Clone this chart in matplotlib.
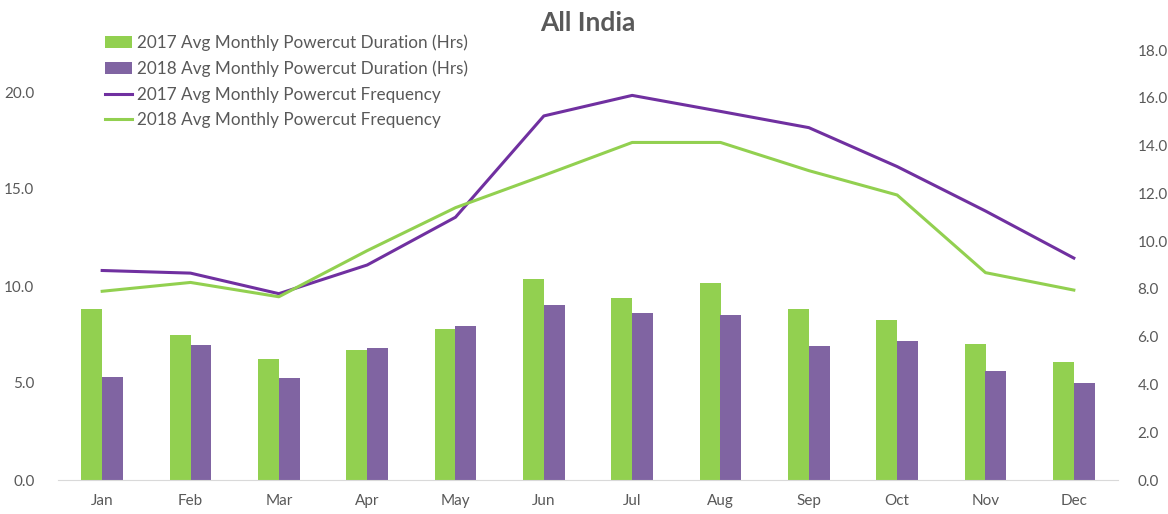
import numpy as np
import matplotlib.pyplot as plt
from matplotlib.patches import Patch
from matplotlib.lines import Line2D

plt.rcParams['font.family'] = ['Lato', 'DejaVu Sans']

months = ["Jan", "Feb", "Mar", "Apr", "May", "Jun",
          "Jul", "Aug", "Sep", "Oct", "Nov", "Dec"]

duration_2017 = [8.80, 7.47, 6.25, 6.68, 7.77, 10.36, 9.36, 10.14, 8.80, 8.25, 6.99, 6.10]
duration_2018 = [5.31, 6.97, 5.27, 6.79, 7.92, 9.00, 8.59, 8.52, 6.91, 7.16, 5.64, 5.02]
frequency_2017 = [8.77, 8.66, 7.80, 9.00, 11.00, 15.24, 16.10, 15.43, 14.75, 13.12, 11.26, 9.29]
frequency_2018 = [7.90, 8.27, 7.67, 9.60, 11.40, 12.75, 14.13, 14.13, 12.95, 11.93, 8.68, 7.95]

green = "#92D050"
purple_bar = "#8064A2"
purple_line = "#7030A0"
text_grey = "#595959"

fig = plt.figure(figsize=(11.68, 5.14), dpi=100)
ax = fig.add_axes([58 / 1168, 1 - 480 / 514, 1060 / 1168, 430 / 514])
ax2 = ax.twinx()

x = np.arange(len(months))
w = 0.235
ax.bar(x - w / 2, duration_2017, w, color=green, zorder=2)
ax.bar(x + w / 2, duration_2018, w, color=purple_bar, zorder=2)

ax2.plot(x, frequency_2017, color=purple_line, lw=2.2)
ax2.plot(x, frequency_2018, color=green, lw=2.2)

ax.set_xlim(-0.5, 11.5)
ax.set_ylim(0, 430 / 19.4)
ax.set_yticks([0, 5, 10, 15, 20])
ax.set_yticklabels(["%.1f" % v for v in [0, 5, 10, 15, 20]])
ax2.set_ylim(0, 18)
ax2.set_yticks(np.arange(0, 19, 2))
ax2.set_yticklabels(["%.1f" % v for v in np.arange(0, 19, 2)])
ax.set_xticks(x)
ax.set_xticklabels(months)

for a in (ax, ax2):
    for s in a.spines.values():
        s.set_visible(False)
    a.tick_params(length=0, labelsize=11, colors=text_grey)
ax.spines["bottom"].set_visible(True)
ax.spines["bottom"].set_color("#D9D9D9")
ax.tick_params(axis="x", pad=10)
ax.tick_params(axis="y", pad=17)
ax2.tick_params(axis="y", pad=14)

fig.text(0.503, 1 - 23 / 514, "All India", ha="center", va="center",
         fontsize=19, fontweight="bold", color=text_grey)

handles = [
    Patch(facecolor=green, edgecolor="none"),
    Patch(facecolor=purple_bar, edgecolor="none"),
    Line2D([0], [0], color=purple_line, lw=2.2),
    Line2D([0], [0], color=green, lw=2.2),
]
labels = [
    "2017 Avg Monthly Powercut Duration (Hrs)",
    "2018 Avg Monthly Powercut Duration (Hrs)",
    "2017 Avg Monthly Powercut Frequency",
    "2018 Avg Monthly Powercut Frequency",
]
leg = fig.legend(handles, labels, loc="upper left",
                 bbox_to_anchor=(105 / 1168, 1 - 34 / 514),
                 frameon=False, fontsize=12.3, handlelength=1.6,
                 handleheight=0.7, handletextpad=0.25, labelspacing=0.57,
                 borderpad=0, borderaxespad=0)
for t in leg.get_texts():
    t.set_color(text_grey)

fig.savefig("out.png", dpi=100)
